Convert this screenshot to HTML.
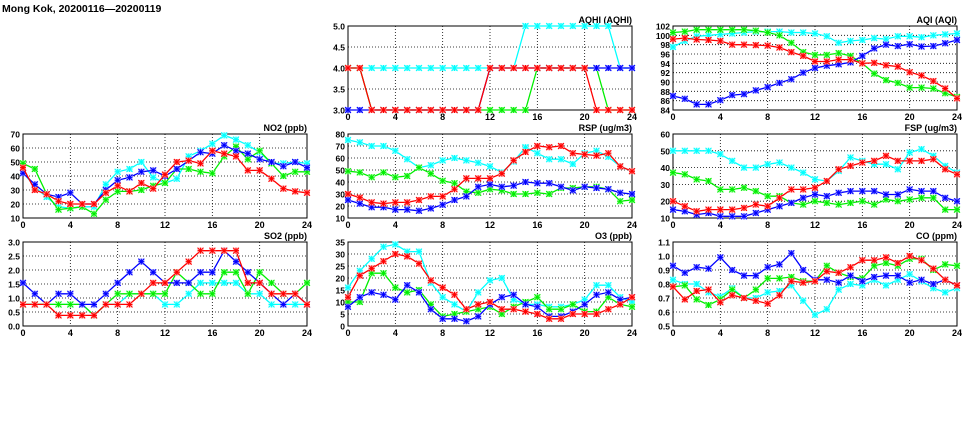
<!DOCTYPE html>
<html><head><meta charset="utf-8"><style>
html,body{margin:0;padding:0;background:#fff;width:975px;height:447px;overflow:hidden}
svg{display:block;font-family:"Liberation Sans",sans-serif}
</style></head><body>
<svg id="c" width="975" height="447" xmlns="http://www.w3.org/2000/svg">
<text x="2" y="12" font-size="10.5" font-weight="bold" font-family="Liberation Sans, sans-serif">Mong Kok, 20200116—20200119</text>
</svg>
<script>
const hours=[0,1,2,3,4,5,6,7,8,9,10,11,12,13,14,15,16,17,18,19,20,21,22,23,24];
const xTicks=[0,4,8,12,16,20,24];
const seriesNames=["cyan","green","blue","red"];
const aqhiCyan=[4,4,4,4,4,4,4,4,4,4,4,4,4,4,4,5,5,5,5,5,5,5,5,4,4];
const aqhiGreen=[4,4,3,3,3,3,3,3,3,3,3,3,3,3,3,3,4,4,4,4,4,4,3,3,3];
const aqhiBlue=[3,3,3,3,3,3,3,3,3,3,3,3,4,4,4,4,4,4,4,4,4,4,4,4,4];
const aqhiRed=[4,4,3,3,3,3,3,3,3,3,3,3,4,4,4,4,4,4,4,4,4,3,3,3,3];
const aqiCyan=[97.5,98.8,99.8,100,100.2,100.4,100.6,100.8,100.8,100.8,100.6,100.6,100.4,99.8,98.4,98.8,99,99.4,99.2,99.8,99.8,99.6,100,100.2,100.4];
const aqiGreen=[100.6,100.8,101.2,101.2,101.2,101.2,101.2,101,100.6,100,98.4,96.4,95.8,95.8,96.2,95.6,94,91.8,90.4,89.8,88.8,88.8,88.6,87.6,86.8];
const aqiBlue=[87,86.4,85.2,85.2,86.1,87.2,87.4,88.2,88.9,89.8,90.6,92,93,93.5,93.8,94.2,95.6,97.2,98,97.7,98.1,97.6,97.7,98.3,99];
const aqiRed=[99.2,99.4,99.1,99,98.8,98,98,97.9,97.8,97.4,96.4,95.6,94.4,94.4,94.8,94.8,94,94.1,93.6,93.3,92.1,91.4,90.2,88.6,86.5];
const no2Cyan=[43,32,25,18,17,18,18,34,43,45,50,39,35,38,54,58,63,69,66,62,57,49,49,50,49];
const no2Green=[49,45,27,16,17,18,13,23,29,29,30,33,35,45,45,43,42,54,61,52,58,49,40,43,43];
const no2Blue=[42,34,27,25,28,20,20,30,37,39,43,44,40,45,51,57,56,62,58,56,52,50,47,50,46];
const no2Red=[46,30,27,22,20,20,20,28,33,29,35,31,41,50,51,49,58,56,54,44,44,38,31,29,28];
const rspCyan=[75,73,70,70,66,59,52,54,58,60,58,56,53,48,57,69,64,59,59,55,64,66,61,53,49];
const rspGreen=[49,48,44,48,44,45,52,47,41,39,32,31,34,33,30,30,31,30,35,35,36,36,34,24,25];
const rspBlue=[25,22,19,19,17,17,16,18,21,25,28,36,38,36,37,40,39,39,36,33,36,35,34,31,30];
const rspRed=[30,27,23,22,23,23,25,28,28,34,43,43,43,47,58,65,70,69,70,64,63,62,64,53,49];
const fspCyan=[50,50,50,50,48,44,40,40,42,43,40,37,33,32,38,46,44,42,42,39,49,51,47,41,37];
const fspGreen=[37,36,33,32,27,27,28,26,23,23,19,18,20,19,18,19,20,18,21,20,21,22,22,15,15];
const fspBlue=[15,14,12,13,11,11,11,13,15,17,19,22,24,23,25,26,26,26,24,24,27,26,26,22,20];
const fspRed=[20,17,14,15,15,15,16,18,17,22,27,27,28,32,39,41,43,44,47,44,44,44,45,39,36];
const so2Cyan=[0.77,0.77,0.77,0.77,0.77,0.77,0.38,0.77,0.77,1.15,1.15,1.15,0.77,0.77,1.15,1.54,1.54,1.54,1.54,1.15,1.15,0.77,0.77,0.77,0.77];
const so2Green=[0.77,0.77,0.77,0.77,0.77,0.77,0.38,0.77,1.15,1.15,1.15,1.15,1.15,1.92,1.54,1.15,1.15,1.92,1.92,1.15,1.92,1.54,1.15,1.15,1.54];
const so2Blue=[1.54,1.15,0.77,1.15,1.15,0.77,0.77,1.15,1.54,1.92,2.3,1.92,1.54,1.54,1.54,1.92,1.92,2.69,2.3,1.92,1.54,1.15,0.77,1.15,0.77];
const so2Red=[0.77,0.77,0.77,0.38,0.38,0.38,0.38,0.77,0.77,0.77,1.15,1.54,1.54,1.92,2.3,2.69,2.69,2.69,2.69,1.54,1.54,1.15,1.15,1.15,0.77];
const o3Cyan=[16,23,28,33,34,31,31,18,12,9,6,14,19,20,11,9,9,8,8,9,11,17,17,12,10];
const o3Green=[10,10,22,22,16,14,15,9,4,5,6,7,8,5,8,10,12,7,7,9,6,6,12,9,8];
const o3Blue=[8,12,14,13,11,17,14,7,3,3,2,4,9,12,13,9,8,4,4,6,9,13,14,11,12];
const o3Red=[12,21,24,27,30,29,26,19,16,13,7,9,10,7,7,6,5,3,3,5,5,5,7,9,12];
const coCyan=[0.83,0.80,0.80,0.74,0.71,0.77,0.70,0.70,0.74,0.75,0.79,0.68,0.58,0.62,0.76,0.80,0.79,0.83,0.79,0.83,0.87,0.82,0.77,0.74,0.77];
const coGreen=[0.78,0.79,0.69,0.65,0.69,0.76,0.70,0.76,0.84,0.84,0.85,0.82,0.82,0.93,0.88,0.85,0.84,0.93,0.95,0.93,0.98,0.98,0.90,0.94,0.93];
const coBlue=[0.93,0.88,0.92,0.91,0.99,0.90,0.86,0.86,0.92,0.94,1.02,0.90,0.83,0.83,0.81,0.86,0.82,0.85,0.86,0.86,0.81,0.83,0.80,0.83,0.79];
const coRed=[0.78,0.69,0.75,0.76,0.67,0.72,0.70,0.68,0.66,0.72,0.82,0.81,0.82,0.89,0.88,0.92,0.97,0.97,0.99,0.95,1.00,0.97,0.91,0.83,0.79];
const aqhiTicks=["3.0","3.5","4.0","4.5","5.0"];
const aqiTicks=["84","86","88","90","92","94","96","98","100","102"];
const no2Ticks=["10","20","30","40","50","60","70"];
const rspTicks=["10","20","30","40","50","60","70","80"];
const fspTicks=["10","20","30","40","50","60"];
const so2Ticks=["0.0","0.5","1.0","1.5","2.0","2.5","3.0"];
const o3Ticks=["0","5","10","15","20","25","30","35"];
const coTicks=["0.5","0.6","0.7","0.8","0.9","1.0","1.1"];

const colors={cyan:["#00ffff","#aaffff"],green:["#00ee00","#aaffaa"],blue:["#0000ff","#aaaaff"],red:["#ff0000","#ffaaaa"]};
const svg=document.getElementById('c');
const NS="http://www.w3.org/2000/svg";
function mk(tag,attrs,parent){const e=document.createElementNS(NS,tag);for(const k in attrs)e.setAttribute(k,attrs[k]);(parent||svg).appendChild(e);return e;}

function panel(name,title,x0,y0,ticks,series){
  const W=284,H=84;
  const g=mk('g',{});
  
  
  const ymin=parseFloat(ticks[0]),ymax=parseFloat(ticks[ticks.length-1]);
  const sx=v=>x0+v/24*W;
  const sy=v=>y0+H-(v-ymin)/(ymax-ymin)*H;
  ticks.forEach((t,i)=>{
    const y=sy(parseFloat(t));
    if(i>0&&i<ticks.length-1){const l=mk('line',{x1:x0,x2:x0+W,y1:y,y2:y,stroke:'#000','stroke-width':0.8,'stroke-dasharray':'1,2'},g);
      }
    const tx=mk('text',{x:x0-3,y:y+3.5,'font-size':8.5,'font-weight':'bold','text-anchor':'end'},g);
    tx.textContent=t;
    
  });
  xTicks.forEach((t,i)=>{
    const x=sx(t);
    if(i>0&&i<xTicks.length-1){const l=mk('line',{x1:x,x2:x,y1:y0,y2:y0+H,stroke:'#000','stroke-width':0.8,'stroke-dasharray':'1,2'},g);
      }
    const tx=mk('text',{x:x,y:y0+H+10,'font-size':9,'font-weight':'bold','text-anchor':'middle'},g);
    tx.textContent=t;
    
  });
  const fr=mk('rect',{x:x0,y:y0,width:W,height:H,fill:'none',stroke:'#000','stroke-width':1},g);
  
  const tt=mk('text',{x:x0+W,y:y0-3,'font-size':9,'font-weight':'bold','text-anchor':'end'},g);
  tt.textContent=title;
  
  series.forEach((vals,si)=>{
    const c=colors[seriesNames[si]];
    const pts=vals.map((v,i)=>sx(hours[i]).toFixed(1)+','+sy(v).toFixed(1)).join(' ');
    const pl=mk('polyline',{points:pts,fill:'none',stroke:c[0],'stroke-width':1.3},g);
    
    
    vals.forEach((v,i)=>{
      const x=sx(hours[i]),y=sy(v);
      const m=mk('g',{},g);
      
      
      mk('rect',{x:x-3,y:y-3,width:6,height:6,fill:c[1]},m);
      mk('path',{d:`M${x-3} ${y-3}L${x+3} ${y+3}M${x+3} ${y-3}L${x-3} ${y+3}M${x} ${y-3}L${x} ${y+3}M${x-3} ${y}L${x+3} ${y}`,stroke:c[0],'stroke-width':1},m);
    });
  });
}
panel('aqhi','AQHI (AQHI)',348,26,aqhiTicks,[aqhiCyan,aqhiGreen,aqhiBlue,aqhiRed]);
panel('aqi','AQI (AQI)',673,26,aqiTicks,[aqiCyan,aqiGreen,aqiBlue,aqiRed]);
panel('no2','NO2 (ppb)',23,134,no2Ticks,[no2Cyan,no2Green,no2Blue,no2Red]);
panel('rsp','RSP (ug/m3)',348,134,rspTicks,[rspCyan,rspGreen,rspBlue,rspRed]);
panel('fsp','FSP (ug/m3)',673,134,fspTicks,[fspCyan,fspGreen,fspBlue,fspRed]);
panel('so2','SO2 (ppb)',23,242,so2Ticks,[so2Cyan,so2Green,so2Blue,so2Red]);
panel('o3','O3 (ppb)',348,242,o3Ticks,[o3Cyan,o3Green,o3Blue,o3Red]);
panel('co','CO (ppm)',673,242,coTicks,[coCyan,coGreen,coBlue,coRed]);
</script>
</body></html>
